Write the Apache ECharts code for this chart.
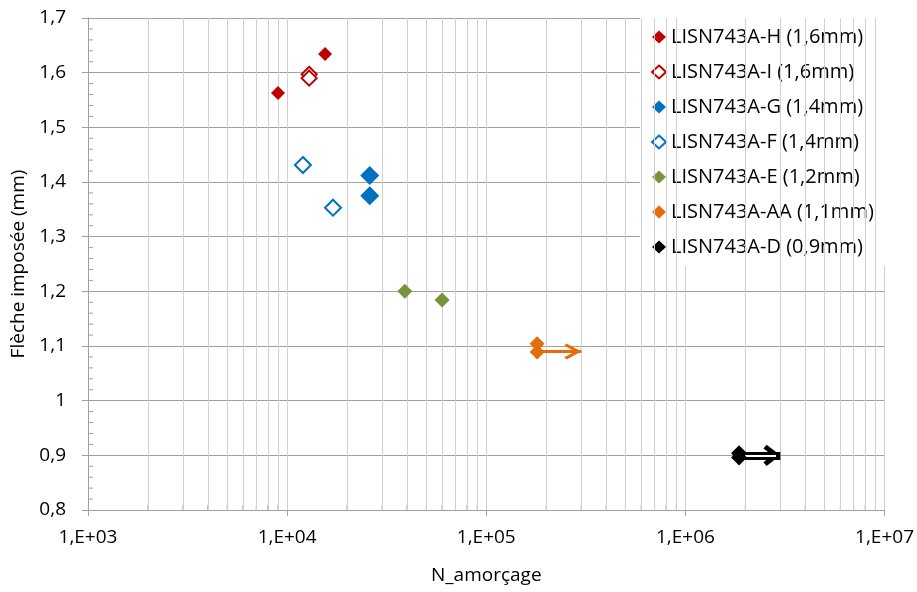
<!DOCTYPE html>
<html><head><meta charset="utf-8">
<script src="https://cdn.jsdelivr.net/npm/echarts@6/dist/echarts.min.js"></script>
<style>html,body{margin:0;padding:0;background:#fff}#c{width:917px;height:592px}</style>
</head><body><div id="c"></div>
<script>
// ---- data ----
const names = ['LISN743A-H (1,6mm)','LISN743A-I (1,6mm)','LISN743A-G (1,4mm)','LISN743A-F (1,4mm)','LISN743A-E (1,2mm)','LISN743A-AA (1,1mm)','LISN743A-D (0,9mm)'];
const xH = [9000, 15500],    yH = [1.563, 1.634];
const xI = [12900, 12900],   yI = [1.597, 1.590];
const xG = [26000, 26000],   yG = [1.412, 1.375];
const xF = [12000, 17000],   yF = [1.431, 1.353];
const xE = [39000, 60000],   yE = [1.200, 1.184];
const xAA = [180000, 180000], yAA = [1.104, 1.089];
const xD = [1860000, 1860000], yD = [0.904, 0.896];
// run-out arrows (N start, N end, flèche)
const arrowAA = [180000, 300000, 1.09];
const arrowD = [1860000, 3000000, 0.9];
const arrowDInner = [1970000, 2850000, 0.9];
const xMin = 1000, xMax = 10000000, yMin = 0.8, yMax = 1.7, yStep = 0.1, yMinorStep = 0.02;
const decades = [1000, 10000, 100000, 1000000];
const minorMult = [2,3,4,5,6,7,8,9];

const pts = (xs, ys) => xs.map((x, i) => [x, ys[i]]);
const minorX = [];
decades.forEach(d => minorMult.forEach(m => minorX.push(d * m)));
const minorY = [];
for (let k = 0; k <= Math.round((yMax - yMin) / yMinorStep); k++) {
  if (k % 5 !== 0) minorY.push(+(yMin + k * yMinorStep).toFixed(3));
}

const FONT = 'Open Sans';
const chevron = 'path://M0,0 L7,13 L5,15 L0,5.5 L-5,15 L-7,13 Z M-15,-15 M15,15';
const chevronBold = 'path://M0,0 L10,13 L6.5,16 L0,7.5 L-6.5,16 L-10,13 Z M-16,-16 M16,16';

function scatter(name, data, color, size, hollow) {
  return {
    name, type: 'scatter', data, symbol: 'diamond', symbolSize: size, z: 5,
    itemStyle: hollow ? { color: '#fff', borderColor: color, borderWidth: 2, opacity: 1 } : { color, opacity: 1 },
    emphasis: { disabled: true }
  };
}

const series = [
  {
    type: 'scatter', data: [], z: 1, silent: true,
    markLine: {
      silent: true, symbol: ['none','none'], animation: false,
      label: { show: false },
      lineStyle: { color: '#d0d0d0', width: 1, type: 'solid' },
      data: minorX.map(v => ({ xAxis: v }))
    }
  },
  {
    type: 'scatter', data: minorX.map(v => [v, yMin]), z: 2, silent: true, clip: false,
    symbol: 'rect', symbolSize: [1, 5], symbolOffset: [0, -2.5],
    itemStyle: { color: '#a0a0a0', opacity: 1 }
  },
  {
    type: 'scatter', data: minorY.map(v => [xMin, v]), z: 2, silent: true, clip: false,
    symbol: 'rect', symbolSize: [5, 1], symbolOffset: [2.5, 0],
    itemStyle: { color: '#a0a0a0', opacity: 1 }
  },
  scatter(names[0], pts(xH, yH), '#C00000', 14, false),
  scatter(names[1], pts(xI, yI), '#C00000', 15, true),
  scatter(names[2], pts(xG, yG), '#0070C0', 19, false),
  scatter(names[3], pts(xF, yF), '#0070C0', 16, true),
  scatter(names[4], pts(xE, yE), '#77933C', 15, false),
  Object.assign(scatter(names[5], pts(xAA, yAA), '#E46C0A', 15, false), {
    markLine: {
      silent: true, animation: false, symbol: ['none', chevron], symbolSize: 34,
      label: { show: false },
      lineStyle: { color: '#E46C0A', width: 3, type: 'solid', opacity: 1 },
      data: [[{ coord: [arrowAA[0], arrowAA[2]] }, { coord: [arrowAA[1], arrowAA[2]] }]]
    }
  }),
  Object.assign(scatter(names[6], pts(xD, yD), '#000000', 16, false), {
    markLine: {
      silent: true, animation: false, symbol: ['none', chevronBold], symbolSize: 34,
      label: { show: false },
      lineStyle: { color: '#000', width: 8, type: 'solid', opacity: 1 },
      data: [[{ coord: [arrowD[0], arrowD[2]] }, { coord: [arrowD[1], arrowD[2]] }]]
    }
  }),
  {
    type: 'scatter', data: [], z: 6, silent: true,
    markLine: {
      silent: true, animation: false, symbol: ['none','none'],
      label: { show: false },
      lineStyle: { color: '#fff', width: 2, type: 'solid', opacity: 1 },
      data: [[{ coord: [arrowDInner[0], arrowDInner[2]] }, { coord: [arrowDInner[1], arrowDInner[2]] }]]
    }
  }
];

const chart = echarts.init(document.getElementById('c'), null, { renderer: 'canvas' });
chart.setOption({
  animation: false,
  backgroundColor: '#fff',
  textStyle: { fontFamily: FONT },
  grid: { left: 88, right: 32, top: 18, bottom: 82, containLabel: false },
  legend: {
    data: names, orient: 'vertical', left: 640, top: 18,
    backgroundColor: '#fff', padding: [8, 14, 8, 11],
    itemGap: 13, itemWidth: 14, itemHeight: 13, selectedMode: false,
    textStyle: { fontFamily: FONT, fontSize: 20, color: '#000', lineHeight: 22 }
  },
  xAxis: {
    type: 'log', logBase: 10, min: xMin, max: xMax,
    name: 'N_amorçage', nameLocation: 'middle', nameGap: 56,
    nameTextStyle: { fontFamily: FONT, fontSize: 19, color: '#000' },
    axisLine: { show: true, lineStyle: { color: '#a0a0a0', width: 1 } },
    axisTick: { show: true, inside: false, length: 6, lineStyle: { color: '#a0a0a0' } },
    axisLabel: {
      fontFamily: FONT, fontSize: 19, color: '#000', margin: 18,
      formatter: v => { const e = Math.round(Math.log10(v)); return '1,E+' + (e < 10 ? '0' + e : e); }
    },
    splitLine: { show: true, lineStyle: { color: '#d0d0d0', width: 1 } },
    minorTick: { show: false }, minorSplitLine: { show: false }
  },
  yAxis: {
    type: 'value', min: yMin, max: yMax, interval: yStep,
    name: 'Flèche imposée (mm)', nameLocation: 'middle', nameGap: 58,
    nameTextStyle: { fontFamily: FONT, fontSize: 19, color: '#000' },
    axisLine: { show: true, lineStyle: { color: '#a0a0a0', width: 1 } },
    axisTick: { show: true, inside: false, length: 6, lineStyle: { color: '#a0a0a0' } },
    axisLabel: {
      fontFamily: FONT, fontSize: 19, color: '#000', margin: 22,
      formatter: v => { const r = Math.round(v * 10) / 10; return Number.isInteger(r) ? String(r) : r.toFixed(1).replace('.', ','); }
    },
    minorTick: { show: false },
    splitLine: { show: true, lineStyle: { color: '#a0a0a0', width: 1 } }
  },
  series
});
</script></body></html>
